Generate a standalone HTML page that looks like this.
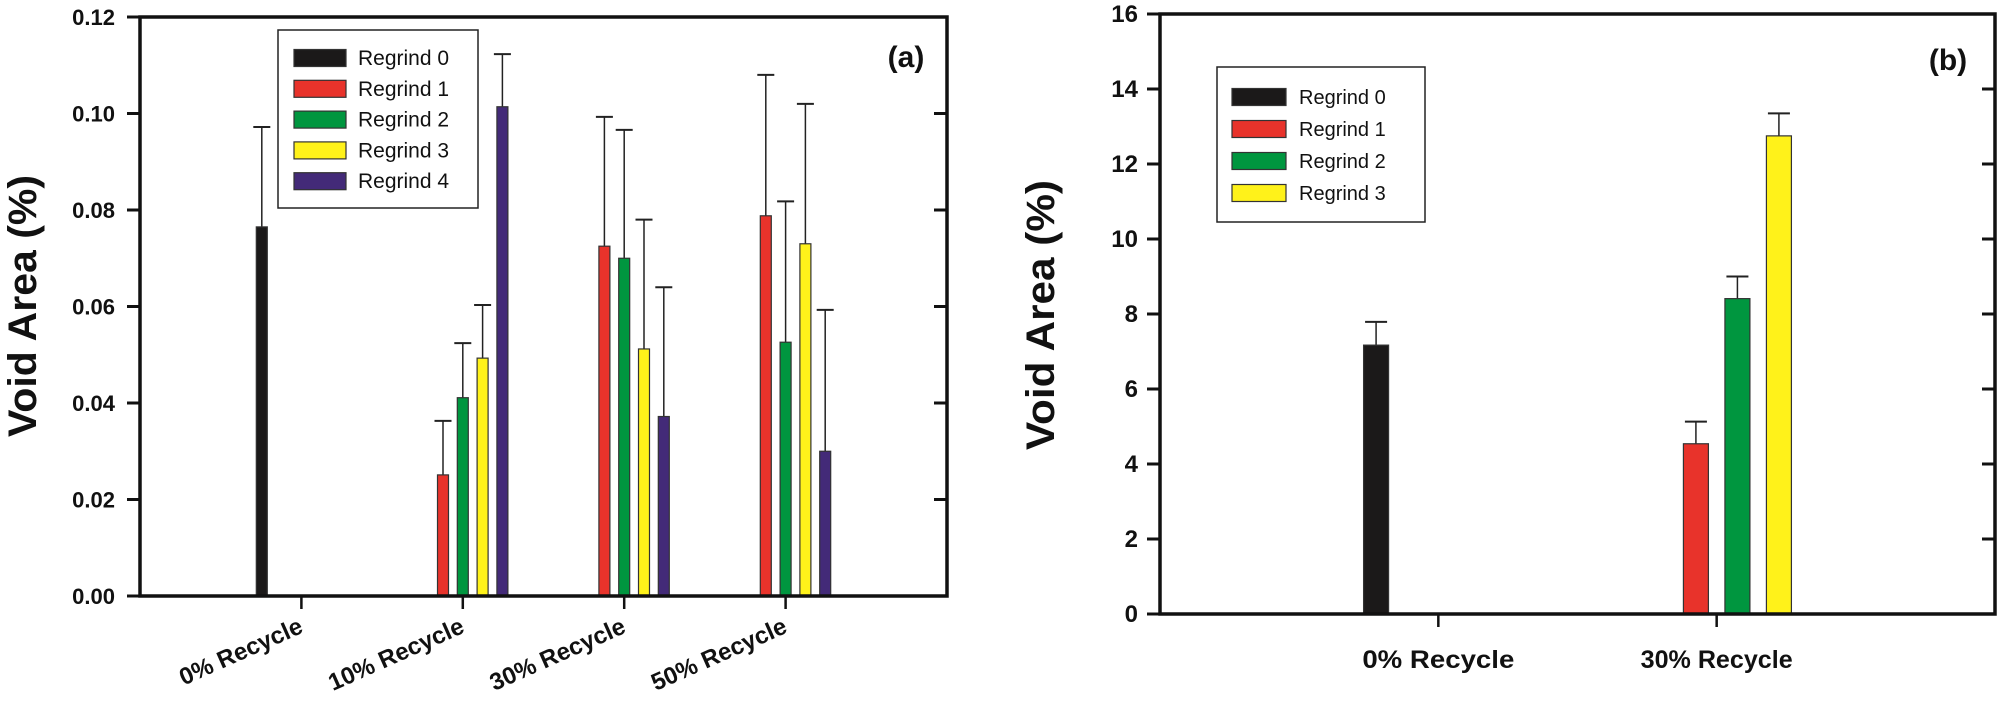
<!DOCTYPE html>
<html><head><meta charset="utf-8"><style>
html,body{margin:0;padding:0;background:#fff;}
svg{display:block;font-family:"Liberation Sans",Arial,sans-serif;}
</style></head><body>
<svg id="chart" width="2001" height="704" viewBox="0 0 2001 704" xmlns="http://www.w3.org/2000/svg"></svg>
<script>
// ---- Panel (a) data ----
const catsA = ["0% Recycle","10% Recycle","30% Recycle","50% Recycle"];
const seriesA = ["Regrind 0","Regrind 1","Regrind 2","Regrind 3","Regrind 4"];
const valsA0 = [0.0765, null, null, null];
const valsA1 = [null, 0.0251, 0.0725, 0.0788];
const valsA2 = [null, 0.0411, 0.0700, 0.0526];
const valsA3 = [null, 0.0493, 0.0512, 0.0730];
const valsA4 = [null, 0.1014, 0.0372, 0.0300];
const errA0 = [0.0972, null, null, null];
const errA1 = [null, 0.0363, 0.0993, 0.1080];
const errA2 = [null, 0.0524, 0.0966, 0.0818];
const errA3 = [null, 0.0603, 0.0780, 0.1020];
const errA4 = [null, 0.1123, 0.0640, 0.0593];
const ticksA = ["0.00","0.02","0.04","0.06","0.08","0.10","0.12"];
// ---- Panel (b) data ----
const catsB = ["0% Recycle","30% Recycle"];
const seriesB = ["Regrind 0","Regrind 1","Regrind 2","Regrind 3"];
const valsB0 = [7.17, null];
const valsB1 = [null, 4.54];
const valsB2 = [null, 8.41];
const valsB3 = [null, 12.75];
const errB0 = [7.79, null];
const errB1 = [null, 5.13];
const errB2 = [null, 9.00];
const errB3 = [null, 13.35];
const ticksB = ["0","2","4","6","8","10","12","14","16"];

const colors = ["#1b1919","#e8332b","#00963f","#fff21a","#432a78"];
const svg = document.getElementById('chart');
const NS = "http://www.w3.org/2000/svg";
function mk(tag, attrs, parent){
  const e = document.createElementNS(NS, tag);
  for (const k in attrs) e.setAttribute(k, attrs[k]);
  (parent||svg).appendChild(e);
  return e;
}

function panel(cfg){
  const g = mk('g', {});
  
  
  const L=cfg.L, R=cfg.R, T=cfg.T, B=cfg.B;
  const ymax = parseFloat(cfg.ticks[cfg.ticks.length-1]);
  const y = v => B - (v/ymax)*(B-T);
  const slot = (R-L)/(cfg.cats.length+1);
  const xc = i => L + slot*(i+1);
  cfg.ticks.forEach(t=>{
    const yy = y(parseFloat(t));
    const tk = mk('line',{x1:L-13,x2:L,y1:yy,y2:yy,stroke:'#111','stroke-width':3},g);
    
    
    const tr = mk('line',{x1:R-13,x2:R,y1:yy,y2:yy,stroke:'#111','stroke-width':3},g);
    
    
    const tl = mk('text',{x:cfg.tickX,y:yy+8,'text-anchor':'end','font-size':cfg.tickFs,'font-weight':'bold',fill:'#111'},g);
    tl.textContent = t;
    
    
  });
  cfg.vals.forEach((arr,s)=>{
    arr.forEach((v,i)=>{
      if (v==null) return;
      const cx = xc(i) + (s - cfg.center)*cfg.step;
      const e = cfg.errs[s][i];
      const el = mk('line',{x1:cx,x2:cx,y1:y(e),y2:y(v),stroke:'#222','stroke-width':1.5},g);
      
      
      const cap = mk('line',{x1:cx-cfg.cap/2,x2:cx+cfg.cap/2,y1:y(e),y2:y(e),stroke:'#222','stroke-width':2},g);
      
      
      const b = mk('rect',{x:cx-cfg.bw/2,y:y(v),width:cfg.bw,height:B-y(v),fill:colors[s],stroke:'#333','stroke-width':1.2},g);
      
      
    });
  });
  const fr = mk('path',{d:`M${L},${T} H${R} V${B} H${L} Z`,fill:'none',stroke:'#111','stroke-width':3.5},g);
  
  
  cfg.cats.forEach((c,i)=>{
    const x = xc(i);
    const tk = mk('line',{x1:x,x2:x,y1:B,y2:B+13,stroke:'#111','stroke-width':2.5},g);
    
    
    let tl;
    if (cfg.rot){
      tl = mk('text',{x:x+3,y:B+36,'text-anchor':'end','font-size':24,'font-weight':'bold',fill:'#111',transform:`rotate(-24 ${x+3} ${B+36})`},g);
    } else {
      tl = mk('text',{x:x,y:B+54,'text-anchor':'middle','font-size':25,'font-weight':'bold',fill:'#111',textLength:152,lengthAdjust:'spacingAndGlyphs'},g);
    }
    tl.textContent = c;
    
    
  });
  const yt = mk('text',{x:cfg.ytX,y:cfg.ytY,'text-anchor':'middle','font-size':40,'font-weight':'bold',fill:'#111',transform:`rotate(-90 ${cfg.ytX} ${cfg.ytY})`,textLength:cfg.ytLen,lengthAdjust:'spacingAndGlyphs'},g);
  yt.textContent = 'Void Area (%)';
  
  
  const pl = mk('text',{x:cfg.plX,y:cfg.plY,'text-anchor':'middle','font-size':30,'font-weight':'bold',fill:'#111'},g);
  pl.textContent = cfg.label;
  
  
  const lg = mk('g',{},g);
  
  
  const lb = cfg.leg;
  mk('rect',{x:lb.x,y:lb.y,width:lb.w,height:lb.h,fill:'#fff',stroke:'#222','stroke-width':1.5},lg);
  cfg.series.forEach((s,k)=>{
    const ry = lb.row0 + k*lb.dy;
    const e = mk('g',{},lg);
    
    
    mk('rect',{x:lb.sx,y:ry-lb.sh/2,width:lb.sw,height:lb.sh,fill:colors[k],stroke:'#333','stroke-width':1.2},e);
    const t = mk('text',{x:lb.tx,y:ry+7,'font-size':lb.fs,fill:'#111'},e);
    t.textContent = s;
  });
}

panel({name:'panel-a',L:140,R:947,T:17,B:596,ticks:ticksA,cats:catsA,series:seriesA,
  vals:[valsA0,valsA1,valsA2,valsA3,valsA4],errs:[errA0,errA1,errA2,errA3,errA4],
  center:2,step:19.8,bw:11,cap:17,tickX:115,tickFs:22,rot:true,
  ytX:36,ytY:306,ytLen:262,label:'(a)',plX:906,plY:67,
  leg:{x:278,y:30,w:200,h:178,row0:58,dy:30.8,sx:294,sw:52,sh:17,tx:358,fs:21}});
panel({name:'panel-b',L:1160,R:1995,T:14,B:614,ticks:ticksB,cats:catsB,series:seriesB,
  vals:[valsB0,valsB1,valsB2,valsB3],errs:[errB0,errB1,errB2,errB3],
  center:1.5,step:41.5,bw:25,cap:22,tickX:1138,tickFs:24,rot:false,
  ytX:1054,ytY:315,ytLen:270,label:'(b)',plX:1948,plY:70,
  leg:{x:1217,y:67,w:208,h:155,row0:97,dy:32,sx:1232,sw:54,sh:17,tx:1299,fs:20}});
</script>
</body></html>
